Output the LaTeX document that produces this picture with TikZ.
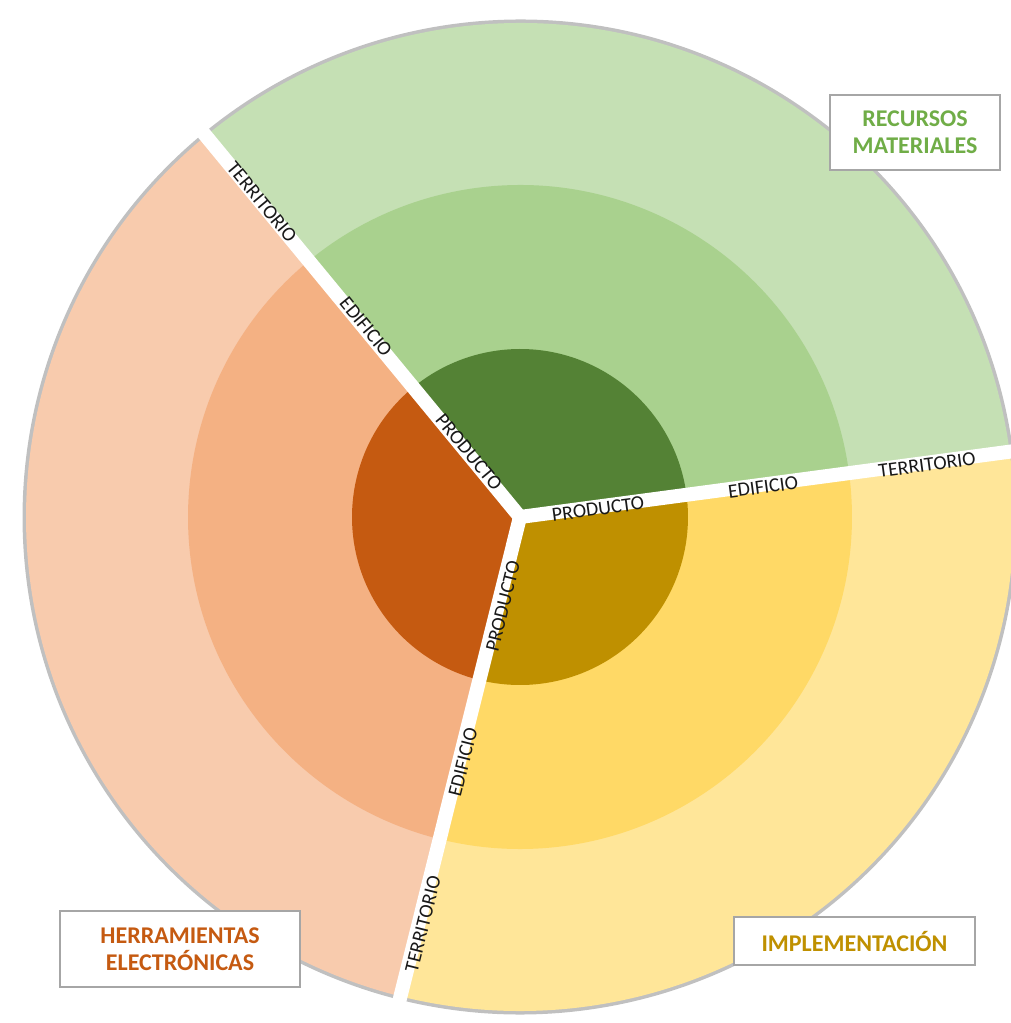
\documentclass[tikz,border=0pt]{standalone}
\usepackage{fontspec}
\setmainfont{Carlito}
\usetikzlibrary{calc}
\definecolor{gA}{HTML}{C5E0B4}
\definecolor{gB}{HTML}{A9D18E}
\definecolor{gC}{HTML}{548235}
\definecolor{oA}{HTML}{F8CBAD}
\definecolor{oB}{HTML}{F4B183}
\definecolor{oC}{HTML}{C55A11}
\definecolor{yA}{HTML}{FFE699}
\definecolor{yB}{HTML}{FFD966}
\definecolor{yC}{HTML}{BF9000}
\definecolor{gT}{HTML}{70AD47}
\definecolor{boxline}{HTML}{A6A6A6}
\newcommand\wedgefill[4]{\fill[#1] (C) -- ++(#2:#4) arc[start angle=#2, end angle=#3, radius=#4] -- cycle;}
\newcommand\rimshade[2]{\draw[black!45, opacity=.55, line width=7] ($(C)+(#1:494)$) arc[start angle=#1, end angle=#2, radius=494];}
\tikzset{
  lab/.style={font=\fontsize{20}{21}\selectfont, inner sep=0pt, text=black!90},
  legendbox/.style={draw=boxline, line width=2pt, fill=white, align=center, inner sep=0pt,
    font=\bfseries\fontsize{24}{27}\selectfont},
  gap/.style={white, line width=14pt, line cap=round}
}
\begin{document}
\begin{tikzpicture}[x=1pt,y=1pt]
\useasboundingbox (0,0) rectangle (1011,-1023);
\clip (0,0) rectangle (1011,-1023);
\coordinate (C) at (520,-517);
% rim shading
\rimshade{7.6}{129.5}
\rimshade{129.5}{256}
\rimshade{256}{367.6}
% green sector
\wedgefill{gA}{7.6}{129.5}{494}
\wedgefill{gB}{7.6}{129.5}{332}
\wedgefill{gC}{7.6}{129.5}{168}
% orange sector
\wedgefill{oA}{129.5}{256}{494}
\wedgefill{oB}{129.5}{256}{332}
\wedgefill{oC}{129.5}{256}{168}
% yellow sector
\wedgefill{yA}{256}{367.6}{494}
\wedgefill{yB}{256}{367.6}{332}
\wedgefill{yC}{256}{367.6}{168}
% gaps
\coordinate (e1) at ($(C)+(129.5:530)$);
\coordinate (e2) at ($(C)+(7.6:530)$);
\coordinate (e3) at ($(C)+(256:530)$);
\draw[gap] (C) -- (e1);
\draw[gap] (C) -- (e2);
\draw[gap] (C) -- (e3);
% labels along green/orange
\node[lab, rotate=-50.5] (go3) at (262,-202) {TERRITORIO};
\node[lab, rotate=-50.5] (go2) at (366,-327) {EDIFICIO};
\node[lab, rotate=-50.5] (go1) at (469,-452) {PRODUCTO};
% labels along green/yellow
\node[lab, rotate=7.6] (gy1) at (598,-509) {PRODUCTO};
\node[lab, rotate=7.6] (gy2) at (763,-487) {EDIFICIO};
\node[lab, rotate=7.6] (gy3) at (927,-465) {TERRITORIO};
% labels along yellow/orange
\node[lab, rotate=76] (yo1) at (503,-606) {PRODUCTO};
\node[lab, rotate=76] (yo2) at (463,-762) {EDIFICIO};
\node[lab, rotate=76] (yo3) at (423,-924) {TERRITORIO};
% legend boxes
\node[legendbox, text=gT, minimum width=170, minimum height=75] (rm) at (915,-132.5) {RECURSOS\\MATERIALES};
\node[legendbox, text=oC, minimum width=240, minimum height=76] (he) at (180,-949) {HERRAMIENTAS\\ELECTRÓNICAS};
\node[legendbox, text=yC, minimum width=241, minimum height=48] (im) at (854.5,-941) {IMPLEMENTACIÓN};
\end{tikzpicture}
\end{document}
